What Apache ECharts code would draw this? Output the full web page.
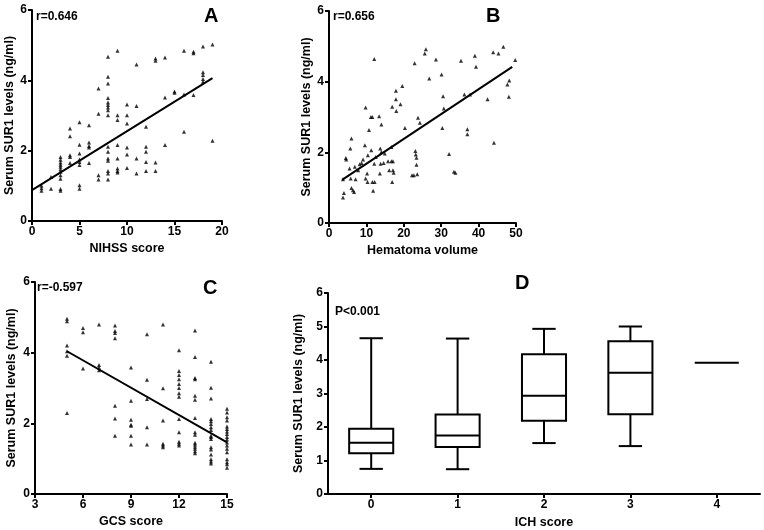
<!DOCTYPE html>
<html><head><meta charset="utf-8">
<script src="https://cdn.jsdelivr.net/npm/echarts@6/dist/echarts.min.js"></script>
<style>html,body{margin:0;padding:0;background:#fff}#c{width:764px;height:530px}</style>
</head><body><div id="c"></div>
<script>
// Panel A: NIHSS score vs serum SUR1
const aNihss = [1,1,1, 2,2, 3,3,3,3,3,3,3,3,3,3,3, 4,4,4,4,4, 5,5,5,5,5,5,5,5, 6,6,6,6,6, 7,7,7,7,
  8,8,8,8,8,8,8,8,8,8,8,8,8,8,8,8, 9,9,9,9,9,9,9,9, 10,10,10,10,10,10, 11,11,11,11, 12,12,12,12,12,
  13,13,13,13, 14,14,14, 15,15, 16,16,16, 17,17,17, 18,18,18,18,18, 19,19];
const aSur1 = [1.0,0.93,0.86, 1.25,0.92, 1.82,1.74,1.66,1.6,1.54,1.47,1.4,1.3,1.2,0.91,0.86, 2.63,2.41,1.87,1.82,1.65,
  2.81,2.17,1.92,1.75,1.68,1.59,1.02,0.92, 2.72,2.23,2.13,2.09,1.65, 3.77,3.05,1.3,1.18,
  4.67,4.1,3.91,3.5,3.37,3.3,3.23,3.15,3.01,2.11,1.97,1.78,1.71,1.42,1.35,1.18,
  4.84,3.01,2.87,2.16,1.78,1.49,1.42,1.38, 3.31,3.01,2.77,2.09,1.89,1.51, 4.45,3.27,1.78,1.35,
  2.68,2.11,1.97,1.68,1.42, 4.62,4.56,1.66,1.42, 4.65,3.51,2.16, 3.68,3.65, 4.84,3.6,2.54,
  4.81,4.77,3.58, 4.96,4.23,4.15,4.04,3.96, 5.02,2.28];
const aFitX = [0, 19];
const aFitY = [0.88, 4.06];

// Panel B: hematoma volume vs serum SUR1
const bVol = [3.75,4.0,3.75,4.5,4.6,5.7,6.0,5.5,5.8,6.0,6.4,6.7,7.1,6.9,7.8,8.2,8.7,9.1,9.6,9.8,9.8,10.2,10.3,10.4,10.7,
  11.2,11.6,11.3,11.6,11.8,12.1,12.1,12.5,12.2,13.4,14.0,13.7,14.0,13.6,13.8,14.6,14.9,15.8,16.1,16.7,16.7,17.1,16.9,17.1,17.3,
  16.9,17.9,17.9,18.0,19.1,19.6,20.3,22.2,22.7,22.9,23.1,23.2,23.4,23.4,23.6,23.8,24.3,25.6,25.9,26.8,28.6,30.1,30.3,30.5,30.7,
  32.1,33.4,33.8,35.3,36.2,37.0,37.0,37.7,39.0,39.3,42.4,43.9,44.1,45.3,46.6,47.7,48.2,48.1,49.8];
const bSur1 = [0.72,0.85,1.24,1.84,1.8,2.11,2.39,1.54,1.26,0.99,0.93,0.88,1.24,1.59,1.49,1.66,1.7,1.8,2.2,3.27,1.26,1.4,1.16,1.92,2.63,
  3.0,3.0,2.06,1.16,0.91,4.64,1.68,1.87,1.16,3.02,2.79,2.11,2.01,1.4,1.68,1.7,1.97,1.75,1.49,2.15,1.75,1.75,1.16,1.49,1.42,
  3.29,3.74,3.5,3.17,3.36,3.88,2.69,1.35,1.35,4.52,2.04,1.94,1.85,1.65,1.38,2.98,2.84,4.8,4.92,4.09,4.63,4.2,2.69,3.59,3.24,
  1.95,1.45,1.42,4.59,3.64,2.65,2.51,3.64,4.73,4.42,3.5,4.83,2.27,4.8,4.99,3.92,4.03,3.57,4.61];
const bFitX = [3.5, 49];
const bFitY = [1.22, 4.42];

// Panel C: GCS score vs serum SUR1
const cGcs = [5,5,5,5,5,5, 6,6,6, 7,7,7,7, 8,8,8,8,8,8,8, 9,9,9,9,9,9,9, 10,10,10,10,10, 11,11,11,11,11,11,
  12,12,12,12,12,12,12,12,12,12,12,12,12, 13,13,13,13,13,13,13,13,13,13,13,13,13,13,13,
  14,14,14,14,14,14,14,14,14,14,14,14,14,14,14,14,14, 15,15,15,15,15,15,15,15,15,15,15,15,15,15,15,15,15,15];
const cSur1 = [4.96,4.89,4.2,4.04,3.91,2.29, 4.7,4.58,3.55, 4.8,3.65,3.58,3.5, 4.77,4.61,4.56,4.41,2.5,2.14,1.65,
  3.58,2.64,2.1,1.96,1.93,1.65,1.4, 4.52,3.23,2.69,1.89,1.4, 4.8,2.99,2.08,1.42,1.37,1.32,
  4.07,3.48,3.37,3.25,3.11,3.0,2.85,2.75,2.12,1.75,1.48,1.42,1.37,
  4.63,3.88,3.28,3.25,2.78,2.67,2.15,1.75,1.68,1.45,1.4,1.34,1.28,1.21,1.15,
  3.74,3.01,2.7,2.12,2.06,1.98,1.89,1.81,1.65,1.61,1.56,1.32,1.26,1.12,0.98,0.92,0.86,
  2.41,2.31,2.17,2.08,1.91,1.84,1.77,1.7,1.61,1.54,1.46,1.37,1.28,1.18,0.98,0.9,0.84,0.74];
const cFitX = [5, 15];
const cFitY = [4.04, 1.46];

// Panel D: ICH score box plots
const ichCats = ['0','1','2','3','4'];
const dMin = [0.75, 0.74, 1.52, 1.43, 3.92];
const dQ1  = [1.22, 1.40, 2.19, 2.38, 3.92];
const dMed = [1.53, 1.75, 2.93, 3.62, 3.92];
const dQ3  = [1.95, 2.37, 4.17, 4.56, 3.92];
const dMax = [4.65, 4.64, 4.93, 5.00, 3.92];

const FONT = '"Liberation Sans", Arial, sans-serif';
const pairs = (xs, ys) => xs.map((x, i) => [x, ys[i]]);

function axisBase(extra) {
  return Object.assign({
    axisLine: {show: true, onZero: false, lineStyle: {color: '#000', width: 2}},
    axisTick: {show: true, length: 4, lineStyle: {color: '#000', width: 2}},
    axisLabel: {color: '#000', fontWeight: 'bold', fontSize: 12, fontFamily: FONT, margin: 5},
    splitLine: {show: false},
    nameLocation: 'middle',
    nameTextStyle: {color: '#000', fontWeight: 'bold', fontSize: 12.5, fontFamily: FONT}
  }, extra);
}
const yTitle = 'Serum SUR1 levels (ng/ml)';

const grids = [
  {left: 32, top: 10, width: 190, height: 211},
  {left: 329, top: 11, width: 187, height: 212},
  {left: 35, top: 282, width: 192, height: 212},
  {left: 328, top: 293, width: 432, height: 202}
];

const xAxes = [
  axisBase({type: 'value', gridIndex: 0, min: 0, max: 20, interval: 5, name: 'NIHSS score', nameGap: 21}),
  axisBase({type: 'value', gridIndex: 1, min: 0, max: 50, interval: 10, name: 'Hematoma volume', nameGap: 21}),
  axisBase({type: 'value', gridIndex: 2, min: 3, max: 15, interval: 3, name: 'GCS score', nameGap: 21}),
  axisBase({type: 'category', gridIndex: 3, data: ichCats, boundaryGap: true, name: 'ICH score', nameGap: 22,
    axisTick: {show: true, alignWithLabel: true, length: 4, lineStyle: {color: '#000', width: 2}}})
];
const yAxes = [
  axisBase({type: 'value', gridIndex: 0, min: 0, max: 6, interval: 2, name: yTitle, nameGap: 16}),
  axisBase({type: 'value', gridIndex: 1, min: 0, max: 6, interval: 2, name: yTitle, nameGap: 16}),
  axisBase({type: 'value', gridIndex: 2, min: 0, max: 6, interval: 2, name: yTitle, nameGap: 17}),
  axisBase({type: 'value', gridIndex: 3, min: 0, max: 6, interval: 1, name: yTitle, nameGap: 15})
];

function scatter(i, xs, ys) {
  return {type: 'scatter', xAxisIndex: i, yAxisIndex: i, data: pairs(xs, ys), symbol: 'triangle', symbolSize: 4,
    itemStyle: {color: '#000'}, silent: true, z: 3};
}
function fit(i, xs, ys) {
  return {type: 'line', xAxisIndex: i, yAxisIndex: i, data: pairs(xs, ys), symbol: 'none',
    lineStyle: {color: '#000', width: 2}, silent: true, z: 4};
}

const boxData = ichCats.map((c, i) => [i, dMin[i], dQ1[i], dMed[i], dQ3[i], dMax[i]]);

const boxSeries = {
  type: 'custom', xAxisIndex: 3, yAxisIndex: 3, data: boxData, silent: true,
  renderItem: function (params, api) {
    const x = api.value(0);
    const pMin = api.coord([x, api.value(1)]);
    const pQ1 = api.coord([x, api.value(2)]);
    const pMed = api.coord([x, api.value(3)]);
    const pQ3 = api.coord([x, api.value(4)]);
    const pMax = api.coord([x, api.value(5)]);
    const bandW = api.size([1, 0])[0];
    const bw = bandW * 0.51, cw = bandW * 0.27;
    const cx = pMed[0];
    const st = {stroke: '#000', lineWidth: 2, fill: null};
    const children = [];
    if (pQ1[1] - pQ3[1] > 0.5) {
      children.push({type: 'rect', shape: {x: cx - bw / 2, y: pQ3[1], width: bw, height: pQ1[1] - pQ3[1]}, style: {stroke: '#000', lineWidth: 2, fill: '#fff'}});
      children.push({type: 'line', shape: {x1: cx, y1: pQ3[1], x2: cx, y2: pMax[1]}, style: st});
      children.push({type: 'line', shape: {x1: cx, y1: pQ1[1], x2: cx, y2: pMin[1]}, style: st});
      children.push({type: 'line', shape: {x1: cx - cw / 2, y1: pMax[1], x2: cx + cw / 2, y2: pMax[1]}, style: st});
      children.push({type: 'line', shape: {x1: cx - cw / 2, y1: pMin[1], x2: cx + cw / 2, y2: pMin[1]}, style: st});
    }
    children.push({type: 'line', shape: {x1: cx - bw / 2, y1: pMed[1], x2: cx + bw / 2, y2: pMed[1]}, style: st});
    return {type: 'group', children: children};
  }
};

function txt(left, top, text, size) {
  return {type: 'text', left: left, top: top, style: {text: text, fill: '#000', font: 'bold ' + size + 'px ' + FONT}};
}

const chart = echarts.init(document.getElementById('c'), null, {renderer: 'canvas'});
chart.setOption({
  animation: false,
  backgroundColor: '#fff',
  grid: grids,
  xAxis: xAxes,
  yAxis: yAxes,
  series: [
    scatter(0, aNihss, aSur1), fit(0, aFitX, aFitY),
    scatter(1, bVol, bSur1), fit(1, bFitX, bFitY),
    scatter(2, cGcs, cSur1), fit(2, cFitX, cFitY),
    boxSeries
  ],
  graphic: [
    txt(36, 11, 'r=0.646', 12),
    txt(204, 6, 'A', 20),
    txt(333, 11, 'r=0.656', 12),
    txt(486, 6, 'B', 20),
    txt(37, 282, 'r=-0.597', 12),
    txt(203, 278, 'C', 20),
    txt(335, 306, 'P<0.001', 12),
    txt(515, 273, 'D', 20)
  ]
});
</script></body></html>
